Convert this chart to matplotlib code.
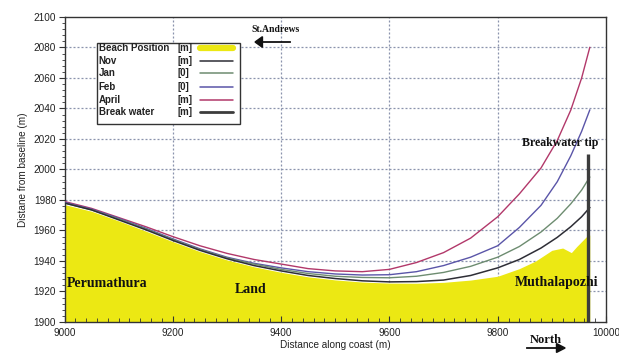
import matplotlib
matplotlib.use("Agg")
import matplotlib.pyplot as plt
from matplotlib.lines import Line2D
from matplotlib.patches import Rectangle
from matplotlib.ticker import MultipleLocator

# ===========================
# DATA
# ===========================
dist = [9000, 9050, 9100, 9150, 9200, 9250, 9300, 9350, 9400, 9450, 9500, 9550,
        9600, 9650, 9700, 9750, 9800, 9840, 9880, 9910, 9935, 9955, 9970]

nov = [1978, 1973.5, 1967, 1960.5, 1953.5, 1947, 1941.5, 1937, 1933.5, 1930.5, 1928.5, 1927,
       1926.3, 1926.5, 1927.5, 1930.5, 1935.5, 1941, 1948.5, 1955.5, 1962.5, 1969, 1975]
jan = [1978, 1973.5, 1967.5, 1961, 1954, 1947.5, 1942, 1938, 1934.5, 1931.8, 1930, 1929.2,
       1929, 1930, 1932.5, 1936.5, 1942.5, 1949.5, 1959, 1968, 1977.5, 1986.5, 1995]
feb = [1978.5, 1974, 1968, 1961.5, 1954.5, 1948, 1942.5, 1938.5, 1935.5, 1933, 1931.5, 1930.8,
       1931, 1933, 1937, 1942.5, 1950, 1962, 1976.5, 1992, 2009, 2025, 2039]
april = [1979, 1974.5, 1968.5, 1962.5, 1956, 1950, 1945, 1941, 1938, 1935, 1933.5, 1933,
         1934.5, 1939, 1945.5, 1955, 1969, 1984, 2001, 2019, 2039, 2060, 2080]

beach_x = [9000, 9050, 9100, 9150, 9200, 9250, 9300, 9350, 9400, 9450, 9500, 9550, 9600,
           9650, 9700, 9750, 9800, 9840, 9870, 9900, 9920, 9936, 9946, 9964, 9970]
beach_y = [1977, 1972.6, 1966.3, 1959.6, 1952.7, 1946.2, 1940.7, 1936.2, 1932.6, 1929.6,
           1927.6, 1926.2, 1925.5, 1925.4, 1926, 1927.5, 1930, 1935, 1940, 1947, 1948.5,
           1945.5, 1949.5, 1956, 1957]

breakwater_x = [9967, 9967]
breakwater_y = [1900, 2010]

legend_names = ["Beach Position", "Nov", "Jan", "Feb", "April", "Break water"]
legend_units = ["[m]", "[m]", "[0]", "[0]", "[m]", "[m]"]

# ===========================
# STYLE
# ===========================
YELLOW = "#ece813"
C_NOV = "#2e2e36"
C_JAN = "#6d8c70"
C_FEB = "#5a55a8"
C_APR = "#b2386a"
C_BW = "#3c3c3c"
GRID = "#8a93ad"

SANS = "Liberation Sans"
SERIF = "Liberation Serif"

fig = plt.figure(figsize=(6.19, 3.56), dpi=100)
ax = fig.add_axes([64.5 / 619, 1 - 322 / 356, 541.5 / 619, 305 / 356])

# beach fill
ax.fill_between(beach_x, beach_y, 1900, color=YELLOW, lw=0, zorder=1)

# grid
for yv in range(1920, 2100, 20):
    ax.axhline(yv, color=GRID, lw=0.9, ls=(0, (1.6, 1.6)), zorder=0.5)
for xv in range(9200, 10000, 200):
    ax.axvline(xv, color=GRID, lw=0.9, ls=(0, (1.6, 1.6)), zorder=0.5)

ax.plot(dist, april, color=C_APR, lw=1.0, zorder=3)
ax.plot(dist, feb, color=C_FEB, lw=1.0, zorder=3)
ax.plot(dist, jan, color=C_JAN, lw=1.0, zorder=3)
ax.plot(dist, nov, color=C_NOV, lw=1.1, zorder=3)
ax.plot(breakwater_x, breakwater_y, color=C_BW, lw=2.4, zorder=4, solid_capstyle="butt")

ax.set_xlim(9000, 10000)
ax.set_ylim(1900, 2100)
ax.xaxis.set_major_locator(MultipleLocator(200))
ax.xaxis.set_minor_locator(MultipleLocator(20))
ax.yaxis.set_major_locator(MultipleLocator(20))
ax.yaxis.set_minor_locator(MultipleLocator(4))
ax.tick_params(axis="x", which="both", direction="in", colors="#333", labelcolor="#222",
               labelsize=7.2, pad=4)
ax.tick_params(axis="x", which="major", length=4)
ax.tick_params(axis="x", which="minor", length=3)
ax.tick_params(axis="y", which="both", direction="out", colors="#333", labelcolor="#222",
               labelsize=7.2, pad=2)
ax.tick_params(axis="y", which="major", length=4)
ax.tick_params(axis="y", which="minor", length=2.5)
for lab in ax.get_xticklabels() + ax.get_yticklabels():
    lab.set_fontfamily(SANS)
for sp in ax.spines.values():
    sp.set_color("#333")
    sp.set_linewidth(1.0)

ax.set_xlabel("Distance along coast (m)", fontsize=7.2, family=SANS, color="#222", labelpad=2)
ax.set_ylabel("Distane from baseline (m)", fontsize=7.2, family=SANS, color="#222", labelpad=4)

# place labels
lab_kw = dict(family=SERIF, weight="bold", color="#111", va="center", zorder=5)
ax.text(9004, 1925.5, "Perumathura", fontsize=10, **lab_kw)
ax.text(9315, 1921.5, "Land", fontsize=10, **lab_kw)
ax.text(9832, 1926, "Muthalapozhi", fontsize=10, **lab_kw)
ax.text(9845, 2017.5, "Breakwater tip", fontsize=8.6, **lab_kw)

fig.text(0.445, 0.916, "St.Andrews", fontsize=7, ha="center", va="center",
         family=SERIF, weight="bold", color="#111")
fig.add_artist(plt.Line2D([0.469, 0.420], [0.882, 0.882], transform=fig.transFigure,
                          color="#111", lw=1.3))
fig.patches.append(plt.Polygon([[0.412, 0.882], [0.424, 0.897], [0.424, 0.867]],
                               closed=True, transform=fig.transFigure, color="#111"))
fig.text(0.882, 0.045, "North", fontsize=9, ha="center", va="center",
         family=SERIF, weight="bold", color="#111")
fig.add_artist(plt.Line2D([0.851, 0.905], [0.0225, 0.0225], transform=fig.transFigure,
                          color="#111", lw=1.3))
fig.patches.append(plt.Polygon([[0.913, 0.0225], [0.899, 0.035], [0.899, 0.010]],
                               closed=True, transform=fig.transFigure, color="#111"))

# legend box, drawn by hand to keep the units column
box = Rectangle((0.060, 0.649), 0.264, 0.266, transform=ax.transAxes,
                facecolor="white", edgecolor="#333", lw=1.0, zorder=6)
ax.add_patch(box)
row_y = [0.898, 0.855, 0.815, 0.772, 0.729, 0.687]
handles = [(YELLOW, 4.5), (C_NOV, 1.1), (C_JAN, 1.1), (C_FEB, 1.1), (C_APR, 1.1), (C_BW, 2.0)]
for yy, name, unit, (col, lw) in zip(row_y, legend_names, legend_units, handles):
    ax.text(0.063, yy, name, transform=ax.transAxes, fontsize=7, family=SANS,
            weight="bold", color="#222", va="center", zorder=7)
    ax.text(0.208, yy, unit, transform=ax.transAxes, fontsize=7, family=SANS,
            weight="bold", color="#222", va="center", zorder=7)
    ax.add_line(Line2D([0.250, 0.311], [yy, yy], transform=ax.transAxes, color=col,
                       lw=lw, solid_capstyle="round", zorder=7))

fig.savefig("out.png", dpi=100, facecolor="white")
